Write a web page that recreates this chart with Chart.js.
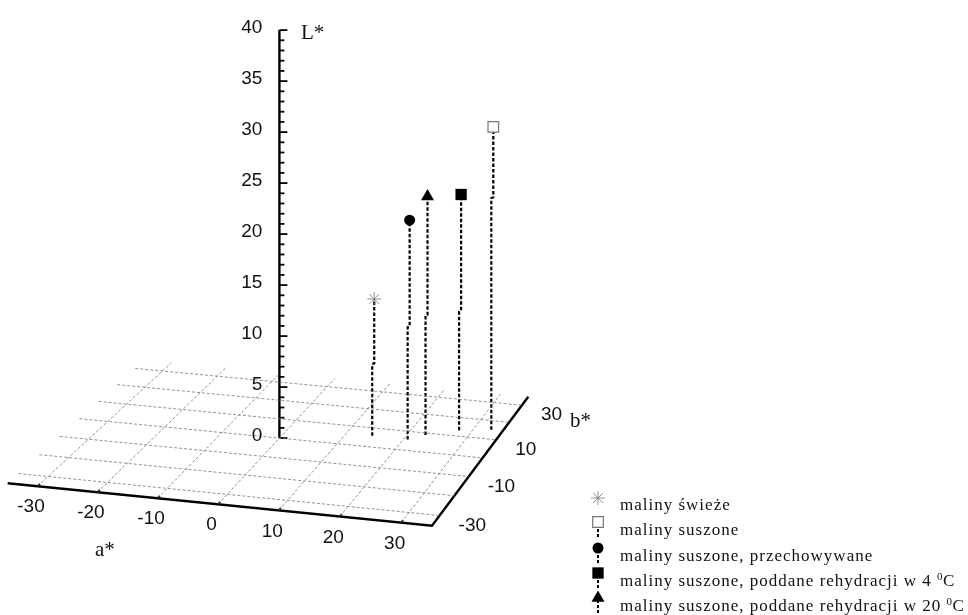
<!DOCTYPE html>
<html>
<head>
<meta charset="utf-8">
<style>html,body{margin:0;padding:0;background:#fff}canvas{display:block}</style>
<script src="https://cdn.jsdelivr.net/npm/chart.js@4/dist/chart.umd.js"></script>
</head>
<body>
<canvas id="c" width="968" height="615"></canvas>
<script>
const names = ["maliny świeże", "maliny suszone", "maliny suszone, przechowywane", "maliny suszone, poddane rehydracji w 4 ", "maliny suszone, poddane rehydracji w 20 "];
const aValues = [14.5, 33, 20.7, 27.8, 23];
const bValues = [5.9, 15, 5.7, 13.2, 8.9];
const lValues = [13.4, 29.7, 21.5, 23.1, 23.4];
// L* where the stem line jumps sideways in the original
const lKinks = [7, 22.7, 11, 11.6, 11.7];

const aTicks = [-30, -20, -10, 0, 10, 20, 30];
const bGrid = [-30, -20, -10, 0, 10, 20, 30];
const bLabels = [-30, -10, 10, 30];
const lMajor = [0, 5, 10, 15, 20, 25, 30, 35, 40];
const lMinor = [1, 2, 3, 4, 6, 7, 8, 9, 11, 12, 13, 14, 16, 17, 18, 19, 21, 22, 23, 24, 26, 27, 28, 29, 31, 32, 33, 34, 36, 37, 38, 39];
const floorEdge = 35;

// floor plane, screen position of the (a,b) = (+-30,+-30) corners
const Q = [[48, 476.5], [409, 512.5], [494, 402.5], [162.5, 371]];
const L_SCALE = 10.2;
const KINK_SHIFT = 2;

function homography() {
    const [p0, p1, p2, p3] = Q;
    const dx1 = p1[0] - p2[0], dx2 = p3[0] - p2[0], sx = p0[0] - p1[0] + p2[0] - p3[0];
    const dy1 = p1[1] - p2[1], dy2 = p3[1] - p2[1], sy = p0[1] - p1[1] + p2[1] - p3[1];
    const den = dx1 * dy2 - dx2 * dy1;
    const g = (sx * dy2 - dx2 * sy) / den, h = (dx1 * sy - sx * dy1) / den;
    return {
        a: p1[0] - p0[0] + g * p1[0], b: p3[0] - p0[0] + h * p3[0], c: p0[0],
        d: p1[1] - p0[1] + g * p1[1], e: p3[1] - p0[1] + h * p3[1], f: p0[1], g, h
    };
}
const H = homography();

function project(a, b, l = 0) {
    const u = (a + 30) / 60, v = (b + 30) / 60;
    const w = H.g * u + H.h * v + 1;
    return { x: (H.a * u + H.b * v + H.c) / w, y: (H.d * u + H.e * v + H.f) / w - l * L_SCALE };
}

const gridStyle = { showLine: true, borderColor: "#777", borderWidth: 0.8, borderDash: [3, 2], pointRadius: 0 };
const axisStyle = { showLine: true, borderColor: "#000", borderWidth: 2.4, pointRadius: 0 };
const datasets = [];

aTicks.forEach(a => datasets.push({ ...gridStyle, data: [project(a, -floorEdge), project(a, floorEdge)] }));
bGrid.forEach(b => datasets.push({ ...gridStyle, data: [project(-floorEdge, b), project(floorEdge, b)] }));

datasets.push({ ...axisStyle, data: [project(-floorEdge, -floorEdge), project(floorEdge, -floorEdge), project(floorEdge, floorEdge)] });
datasets.push({ ...axisStyle, data: [project(0, 0), project(0, 0, 40)] });

const tickData = (l, len) => {
    const p = project(0, 0, l);
    return [p, { x: p.x + len, y: p.y }];
};
lMajor.forEach(l => datasets.push({ ...axisStyle, borderWidth: 1.8, data: tickData(l, 8) }));
lMinor.forEach(l => datasets.push({ ...axisStyle, borderWidth: 1.8, data: tickData(l, 5) }));
aTicks.forEach(a => datasets.push({ ...axisStyle, borderWidth: 1.8, data: [project(a, -floorEdge), project(a, -floorEdge + 1.2)] }));

const markers = [
    { pointStyle: "star", radius: 7, fill: "#fff", stroke: "#777", border: 0.8 },
    { pointStyle: "rect", radius: 7.5, fill: "#fff", stroke: "#777", border: 1.2 },
    { pointStyle: "circle", radius: 5.5, fill: "#000", stroke: "#000", border: 0 },
    { pointStyle: "rect", radius: 8, fill: "#000", stroke: "#000", border: 0 },
    { pointStyle: "triangle", radius: 7.5, fill: "#000", stroke: "#000", border: 0 }
];

names.forEach((name, i) => {
    const base = project(aValues[i], bValues[i]);
    const top = project(aValues[i], bValues[i], lValues[i]);
    const kink = project(aValues[i], bValues[i], lKinks[i]);
    const m = markers[i];
    datasets.push({
        label: name,
        showLine: true,
        borderColor: "#000",
        borderWidth: 2.2,
        borderDash: [3.5, 2],
        data: [base, { x: base.x, y: kink.y }, { x: base.x + KINK_SHIFT, y: kink.y - 1 }, { x: base.x + KINK_SHIFT, y: top.y }],
        pointStyle: m.pointStyle,
        pointRadius: [0, 0, 0, m.radius],
        pointBackgroundColor: m.fill,
        pointBorderColor: m.stroke,
        pointBorderWidth: m.border
    });
});

const labelPlugin = {
    id: "labels",
    afterDatasetsDraw(chart) {
        const ctx = chart.ctx, sx = chart.scales.x, sy = chart.scales.y;
        const at = p => ({ x: sx.getPixelForValue(p.x), y: sy.getPixelForValue(p.y) });
        const put = (txt, x, y, align, font, color = "#111") => {
            ctx.font = font;
            ctx.fillStyle = color;
            ctx.textAlign = align;
            ctx.textBaseline = "middle";
            ctx.fillText(txt, x, y);
        };
        ctx.save();
        const sans = '19px "Liberation Sans"', serif = '21px "Liberation Serif"';
        lMajor.forEach(l => {
            const p = at(project(0, 0, l));
            put(String(l), p.x - 17, p.y - 2.5, "right", sans);
        });
        aTicks.forEach(a => {
            const p = at(project(a, -floorEdge));
            put(String(a), p.x - 6.5, p.y + 21, "center", sans);
        });
        bLabels.forEach(b => {
            const p = at(project(floorEdge, b));
            put(String(b), p.x + 19, p.y + 10, "left", sans);
        });
        put("L*", 301, 33, "left", serif);
        put("a*", 95, 550, "left", serif);
        put("b*", 570, 421, "left", serif);

        // legend keys and texts
        const rows = [506, 531, 557, 582, 607];
        const keys = [498, 522, 548, 573, 598];
        const text = '17px "Liberation Serif"';
        names.forEach((name, i) => {
            const m = markers[i], y = keys[i];
            if (i > 0) {
                ctx.strokeStyle = "#000";
                ctx.lineWidth = 2;
                ctx.setLineDash([3, 2]);
                ctx.beginPath();
                ctx.moveTo(598, y + 2);
                ctx.lineTo(598, y + 15);
                ctx.stroke();
                ctx.setLineDash([]);
            }
            ctx.fillStyle = m.fill;
            ctx.strokeStyle = m.stroke;
            ctx.lineWidth = m.border;
            Chart.helpers.drawPoint(ctx, { pointStyle: m.pointStyle, radius: m.radius, rotation: 0, borderWidth: m.border }, 598, y);
            ctx.letterSpacing = "1px";
            put(name, 620, rows[i], "left", text);
            if (i > 2) {
                const w = ctx.measureText(name).width;
                ctx.letterSpacing = "0px";
                put("0", 620 + w, rows[i] - 5, "left", '11px "Liberation Serif"');
                put("C", 620 + w + 6, rows[i], "left", text);
            }
            ctx.letterSpacing = "0px";
        });
        ctx.restore();
    }
};

new Chart(document.getElementById("c"), {
    type: "scatter",
    data: { datasets },
    plugins: [labelPlugin],
    options: {
        responsive: false,
        animation: false,
        layout: { padding: 0, autoPadding: false },
        clip: false,
        scales: {
            x: { type: "linear", display: false, min: 0, max: 968 },
            y: { type: "linear", display: false, min: 0, max: 615, reverse: true }
        },
        plugins: { legend: { display: false }, tooltip: { enabled: false } }
    }
});
</script>
</body>
</html>
